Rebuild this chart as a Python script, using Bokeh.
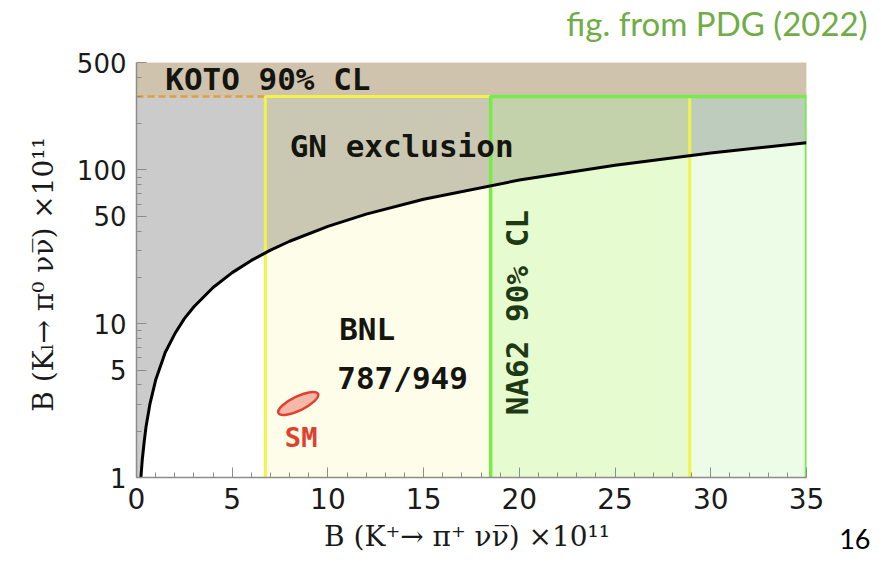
import numpy as np
from math import pi
from bokeh.plotting import figure
from bokeh.models import Label, FixedTicker, PrintfTickFormatter
from bokeh.embed import file_html
from bokeh.resources import INLINE

# ---- data ----
gn_x = [0.23, 0.3, 0.4, 0.5, 0.7, 1.0, 1.5, 2, 2.5, 3, 4, 5, 6, 7, 8, 10, 12, 15, 20, 25, 30, 35]
gn_y = [1.0, 1.3, 1.7, 2.15, 3.0, 4.3, 6.5, 8.6, 10.8, 12.9, 17.2, 21.5, 25.8, 30.1, 34.4, 43,
        51.6, 64.5, 86, 107.5, 129, 150.5]
koto_limit = 300
y_top = 500
bnl_range = [6.73, 28.9]
na62_range = [18.5, 35]
sm_point = [8.45, 3.03]

x_ticks = [0, 5, 10, 15, 20, 25, 30, 35]
x_minor = list(range(0, 36))
y_ticks = [1, 5, 10, 50, 100, 500]
y_minor = [2, 3, 4, 6, 7, 8, 9, 20, 30, 40, 60, 70, 80, 90, 200, 300, 400]

# region boundaries (x) and colours above / below the GN curve
seg_edges = [0, bnl_range[0], na62_range[0], bnl_range[1], na62_range[1]]
above_cols = ["#cbcbcb", "#cac8b2", "#c3d2ab", "#bdccbd"]
below_cols = ["#ffffff", "#fefde9", "#e7fbd0", "#edfce6"]

W, H = 879, 560
p = figure(width=W, height=H, x_range=(0, 35), y_range=(1, y_top), y_axis_type="log",
           output_backend="svg", toolbar_location=None,
           min_border_left=136, min_border_right=W - 806, min_border_top=62,
           min_border_bottom=H - 477)
p.outline_line_color = None
p.grid.visible = False
p.background_fill_color = "white"
p.border_fill_color = "white"

gx = np.array(gn_x, dtype=float)
gy = np.array(gn_y, dtype=float)

for i in range(4):
    a, b = seg_edges[i], seg_edges[i + 1]
    inner = gx[(gx > a) & (gx < b)]
    xs = np.concatenate([[a], inner, [b]])
    ys = np.interp(xs, gx, gy)
    ax_ = list(xs) + [b, a]
    ay_ = list(ys) + [koto_limit, koto_limit]
    p.patch(ax_, ay_, fill_color=above_cols[i], line_color=above_cols[i], line_width=0.5)
    if i > 0:
        bx_ = [a] + list(xs) + [b]
        by_ = [1] + list(ys) + [1]
        p.patch(bx_, by_, fill_color=below_cols[i], line_color=below_cols[i], line_width=0.5)

# KOTO band
p.patch([0, 35, 35, 0], [koto_limit, koto_limit, y_top, y_top],
        fill_color="#d0c3ae", line_color="#d0c3ae", line_width=0.5)
p.line([0, bnl_range[0]], [koto_limit, koto_limit], line_color="#e0a040",
       line_width=2.5, line_dash="7 4")

# BNL box (yellow) and NA62 box (green)
p.line([bnl_range[0], bnl_range[0], bnl_range[1], bnl_range[1]],
       [1, koto_limit, koto_limit, 1], line_color="#f2f24a", line_width=3)
p.line([na62_range[0], na62_range[0], na62_range[1], na62_range[1]],
       [1, koto_limit, koto_limit, 1], line_color="#78ea4a", line_width=3.5)

# GN bound curve
p.line(gn_x, gn_y, line_color="black", line_width=3)

# SM ellipse
p.ellipse(x=[sm_point[0]], y=[sm_point[1]], width=44, height=14, angle=0.45,
          width_units="screen", height_units="screen",
          fill_color="#f4b8a8", line_color="#e04030", line_width=2.5)

# axes
x_ticker = FixedTicker(ticks=x_ticks, minor_ticks=x_minor)
y_ticker = FixedTicker(ticks=y_ticks, minor_ticks=y_minor)
p.xaxis.ticker = x_ticker
p.yaxis.ticker = y_ticker
p.yaxis.formatter = PrintfTickFormatter(format="%d")

for ax in [p.xaxis[0], p.yaxis[0]]:
    ax.major_tick_in = 10
    ax.major_tick_out = 0
    ax.minor_tick_in = 5
    ax.minor_tick_out = 0
    ax.axis_line_color = "#8c8c8c"
    ax.axis_line_width = 1.5
    ax.major_tick_line_color = "#8c8c8c"
    ax.minor_tick_line_color = "#8c8c8c"
    ax.major_label_text_font = "DejaVu Sans"
    ax.major_label_text_color = "#1a1a1a"
    ax.major_label_standoff = 10
    ax.axis_label_text_font = "DejaVu Serif"
    ax.axis_label_text_font_style = "normal"
    ax.axis_label_text_font_size = "28px"
    ax.axis_label_text_color = "#1a1a1a"

p.xaxis.major_label_text_font_size = "28px"
p.yaxis.major_label_text_font_size = "26px"
p.xaxis.axis_label = "B (K\u207a\u2192  \u03c0\u207a \u03bd\u03bd\u0305) \u00d710\u00b9\u00b9"
p.yaxis.axis_label = "B (K\u2097\u2192  \u03c0\u2070 \u03bd\u03bd\u0305) \u00d710\u00b9\u00b9"
p.xaxis.axis_label_standoff = 8
p.yaxis.axis_label_standoff = 14

# labels inside the plot
txt = dict(text_font="DejaVu Sans Mono", text_font_style="bold", text_font_size="31px",
           text_color="#15150f", text_baseline="middle")
p.add_layout(Label(x=1.5, y=393, text="KOTO 90% CL", text_align="left", **txt))
p.add_layout(Label(x=8.0, y=144, text="GN exclusion", text_align="left", **txt))
p.add_layout(Label(x=12.05, y=9.3, text="BNL", text_align="center", **txt))
p.add_layout(Label(x=13.9, y=4.47, text="787/949", text_align="center", **txt))
p.add_layout(Label(x=19.87, y=11.8, text="NA62 90% CL", text_align="center", angle=pi / 2,
                   **{**txt, "text_color": "#1e3a14"}))
p.add_layout(Label(x=8.6, y=1.82, text="SM", text_align="center",
                   **{**txt, "text_color": "#e04030", "text_font_size": "27px"}))

# source note and slide number, placed in canvas pixels in a side panel (not clipped)
p.add_layout(Label(x=867, y=22, x_units="canvas", y_units="canvas",
                   text="fig. from PDG (2022)", text_align="right",
                   text_baseline="alphabetic", text_font="Lato", text_font_size="33px",
                   text_color="#70ad47"), "above")
p.add_layout(Label(x=870, y=538, x_units="canvas", y_units="canvas", text="16",
                   text_align="right", text_baseline="alphabetic", text_font="Lato",
                   text_font_size="27px", text_color="#000000"), "above")

open("out.html", "w").write(file_html(p, INLINE))
